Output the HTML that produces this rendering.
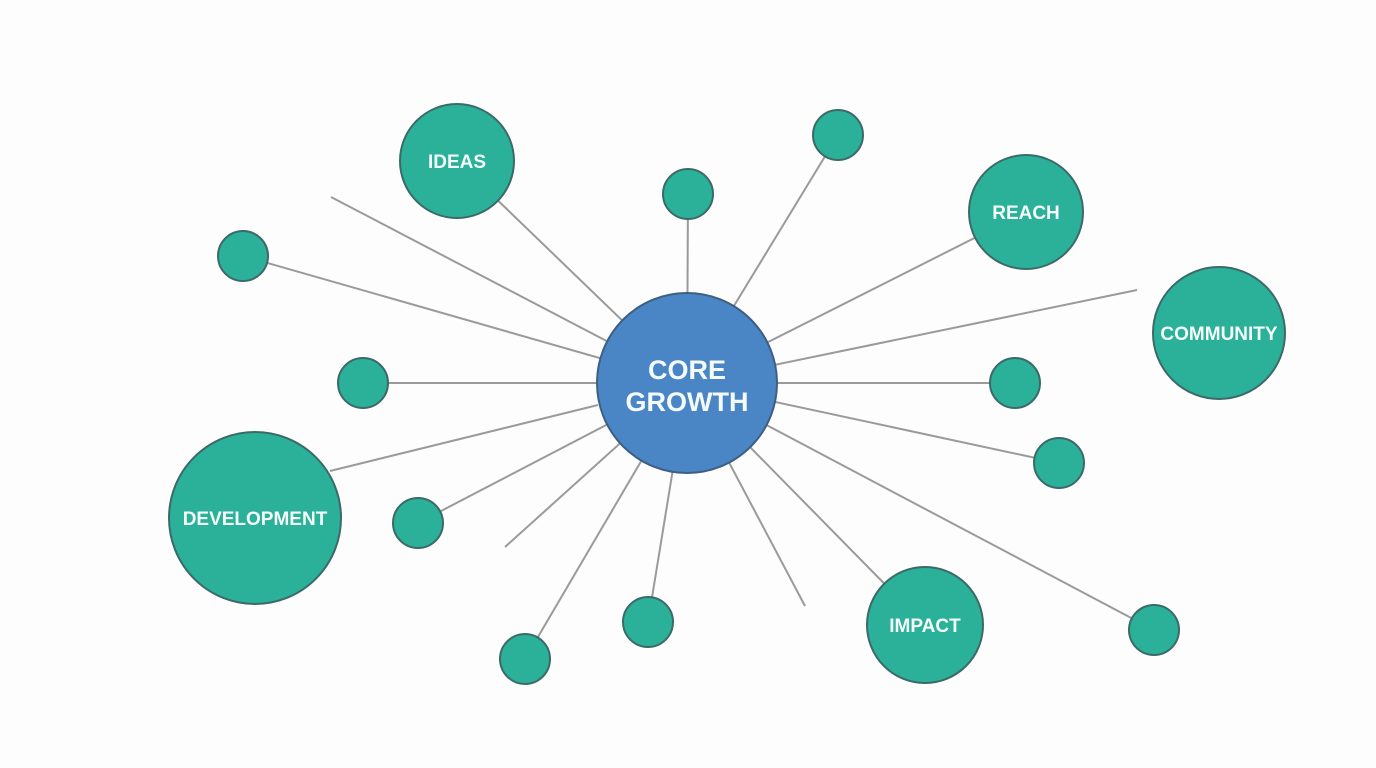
<!DOCTYPE html>
<html><head><meta charset="utf-8"><style>
html,body{margin:0;padding:0;background:#fdfdfd;width:1376px;height:768px;overflow:hidden}
text{font-family:"Liberation Sans",sans-serif;font-weight:bold;fill:#f4fbf9}
</style></head><body>
<svg width="1376" height="768" viewBox="0 0 1376 768" xmlns="http://www.w3.org/2000/svg">
<rect width="1376" height="768" fill="#fdfdfd"/>
<g stroke="#9a9a9a" stroke-width="2" fill="none">
<line x1="687" y1="383" x2="457" y2="161"/>
<line x1="687" y1="383" x2="688" y2="194"/>
<line x1="687" y1="383" x2="838" y2="135"/>
<line x1="687" y1="383" x2="1026" y2="212"/>
<line x1="687" y1="383" x2="1137" y2="290"/>
<line x1="687" y1="383" x2="1015" y2="383"/>
<line x1="687" y1="383" x2="1059" y2="463"/>
<line x1="687" y1="383" x2="1154" y2="630"/>
<line x1="687" y1="383" x2="925" y2="625"/>
<line x1="687" y1="383" x2="805" y2="606"/>
<line x1="687" y1="383" x2="648" y2="622"/>
<line x1="687" y1="383" x2="525" y2="659"/>
<line x1="687" y1="383" x2="505" y2="547"/>
<line x1="687" y1="383" x2="418" y2="523"/>
<line x1="598" y1="405" x2="330" y2="471"/>
<line x1="687" y1="383" x2="363" y2="383"/>
<line x1="687" y1="383" x2="243" y2="256"/>
<line x1="687" y1="383" x2="331" y2="197"/>
</g>
<g fill="#2bb09a" stroke="#3b6a68" stroke-width="2">
<circle cx="457" cy="161" r="57"/>
<circle cx="688" cy="194" r="25"/>
<circle cx="838" cy="135" r="25"/>
<circle cx="1026" cy="212" r="57"/>
<circle cx="1219" cy="333" r="66"/>
<circle cx="1015" cy="383" r="25"/>
<circle cx="1059" cy="463" r="25"/>
<circle cx="1154" cy="630" r="25"/>
<circle cx="925" cy="625" r="58"/>
<circle cx="648" cy="622" r="25"/>
<circle cx="525" cy="659" r="25"/>
<circle cx="418" cy="523" r="25"/>
<circle cx="255" cy="518" r="86"/>
<circle cx="363" cy="383" r="25"/>
<circle cx="243" cy="256" r="25"/>
</g>
<circle cx="687" cy="383" r="90" fill="#4a86c6" stroke="#3d5f80" stroke-width="2"/>
<text x="687" y="379" font-size="27" text-anchor="middle">CORE</text>
<text x="687" y="411" font-size="27" text-anchor="middle">GROWTH</text>
<text x="457" y="168" font-size="19" text-anchor="middle">IDEAS</text>
<text x="1026" y="219" font-size="19" text-anchor="middle">REACH</text>
<text x="1219" y="340" font-size="19" text-anchor="middle">COMMUNITY</text>
<text x="925" y="632" font-size="19" text-anchor="middle">IMPACT</text>
<text x="255" y="525" font-size="19" text-anchor="middle">DEVELOPMENT</text>
</svg>
</body></html>
